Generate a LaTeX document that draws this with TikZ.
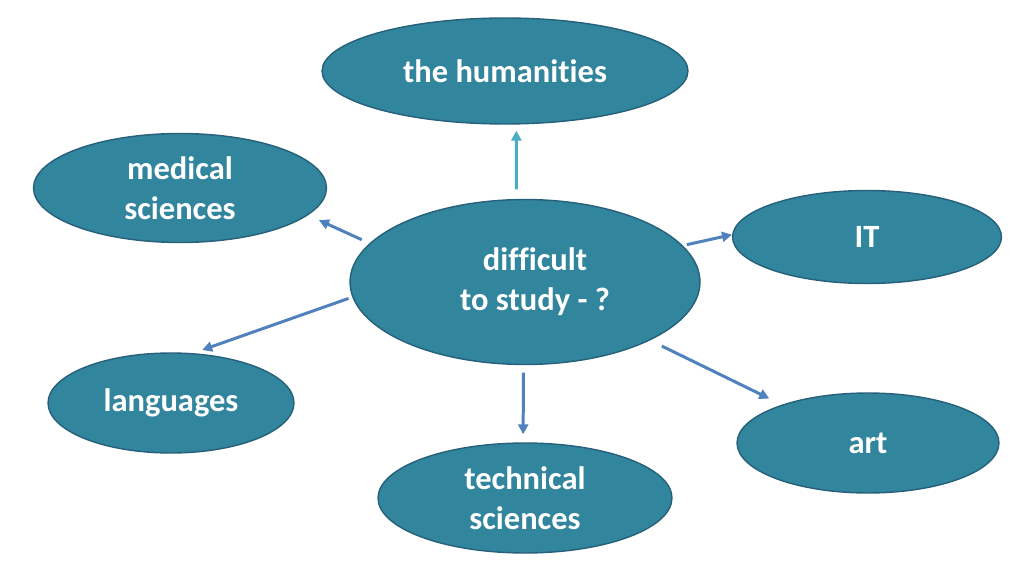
\documentclass[tikz,border=0pt]{standalone}
\usepackage{fontspec}
\setmainfont{Carlito}[Ligatures=NoCommon]
\usetikzlibrary{arrows.meta,shapes.geometric}
\definecolor{topicfill}{RGB}{49,133,156}
\definecolor{topicedge}{RGB}{38,96,122}
\definecolor{linkblue}{RGB}{79,129,189}
\definecolor{linklight}{RGB}{75,172,198}
\tikzset{
  topic/.style={ellipse,fill=topicfill,draw=topicedge,line width=.8pt,inner sep=0pt,
    text=white,align=center,font=\fontsize{18.5}{22.8}\selectfont\bfseries},
  link/.style={draw=linkblue,line width=1.7pt,-{Triangle[length=.2cm,width=.2cm]}}
}
\begin{document}
\begin{tikzpicture}[x=.02cm,y=-.02cm]
\useasboundingbox(0,0)rectangle(1024,574);
\node[topic,minimum width=7cm,minimum height=3.3cm](study)at(525,282){\hspace*{.4cm}difficult\\\hspace*{.4cm}to study - ?};
\node[topic,minimum width=7.32cm,minimum height=2.12cm](hum)at(505,71){the humanities};
\node[topic,minimum width=5.86cm,minimum height=2.18cm](med)at(180,188){medical\\sciences};
\node[topic,minimum width=5.38cm,minimum height=1.86cm](it)at(867,237){IT};
\node[topic,minimum width=4.92cm,minimum height=2cm](lang)at(171,403){languages};
\node[topic,minimum width=5.88cm,minimum height=2.2cm](tech)at(525,498){technical\\sciences};
\node[topic,minimum width=5.24cm,minimum height=2cm](art)at(868,443){\raisebox{-.14cm}{art}};
\draw[link,draw=linklight,shorten <=.19cm,shorten >=.12cm](study.96.2)--(hum.-78.5);
\draw[link,shorten <=.17cm,shorten >=.24cm](study.166.7)--(med.-12.3);
\draw[link,shorten <=.08cm](study.13.8)--(it.179.1);
\draw[link,shorten <=.08cm,shorten >=.19cm](study.185.9)--(lang.66.7);
\draw[link,shorten <=.15cm,shorten >=.16cm](study.-91.9)--(tech.92.7);
\draw[link,shorten <=.26cm,shorten >=.28cm](study.-25.4)--(art.156.7);
\end{tikzpicture}
\end{document}
